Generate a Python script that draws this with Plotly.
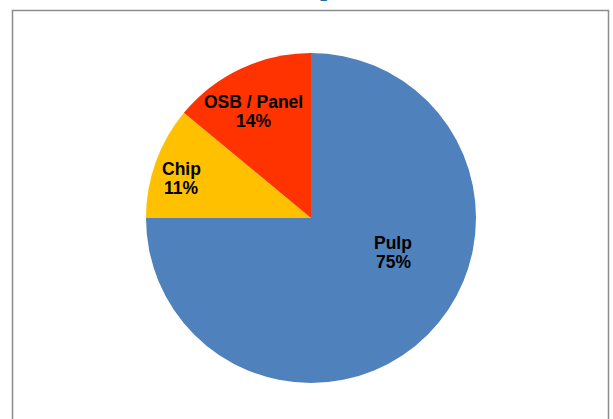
import math
import plotly.graph_objects as go

labels = ["Pulp", "Chip", "OSB / Panel"]
values = [75, 11, 14]
colors = ["#4F81BD", "#FFC000", "#FF3300"]

# label placement style: radius fraction and angular nudge (deg) from slice bisector
label_rfrac = [0.54, 0.82, 0.735]
label_nudge = [-22.4, -2.8, -3.2]

W, H = 613, 419
cx, cy, r = 311, 218, 165
FONT = "Liberation Sans, Arial, sans-serif"
FS = 17.5

fig = go.Figure(go.Pie(
    labels=labels,
    values=values,
    marker=dict(colors=colors, line=dict(width=0)),
    sort=False,
    direction="clockwise",
    rotation=0,
    textinfo="none",
    showlegend=False,
    hoverinfo="skip",
    domain=dict(x=[(cx - r) / W, (cx + r) / W], y=[1 - (cy + r) / H, 1 - (cy - r) / H]),
))

annotations = []
total = sum(values)
cum = 0.0
for lab, v, rf, nd in zip(labels, values, label_rfrac, label_nudge):
    mid = (cum + v / 2) / total * 360 + nd
    cum += v
    th = math.radians(mid)
    px = cx + rf * r * math.sin(th)
    py = cy - rf * r * math.cos(th)
    pct = f"{round(v / total * 100)}%"
    for txt, dy in ((lab, -9.5), (pct, 9.5)):
        annotations.append(dict(
            text=f"<b>{txt}</b>", xref="paper", yref="paper",
            x=px / W, y=1 - (py + dy) / H, xanchor="center", yanchor="middle",
            showarrow=False, font=dict(family=FONT, size=FS, color="black")))

annotations.append(dict(text="<b>p</b>", xref="paper", yref="paper",
                        x=327 / W, y=1 - 4 / H, xanchor="center", yanchor="bottom",
                        showarrow=False,
                        font=dict(family="Liberation Serif, serif", size=26, color="#1F6FA8")))

fig.update_layout(
    width=W, height=H,
    margin=dict(l=0, r=0, t=0, b=0),
    paper_bgcolor="white",
    shapes=[dict(type="rect", xref="paper", yref="paper",
                 x0=12.5 / W, x1=608.5 / W, y0=-0.05, y1=1 - 10.5 / H,
                 line=dict(color="#8C8C8C", width=1.5))],
    annotations=annotations,
)

fig.write_html("out.html", config={"displayModeBar": False},
               post_script="document.body.style.margin='0';")
